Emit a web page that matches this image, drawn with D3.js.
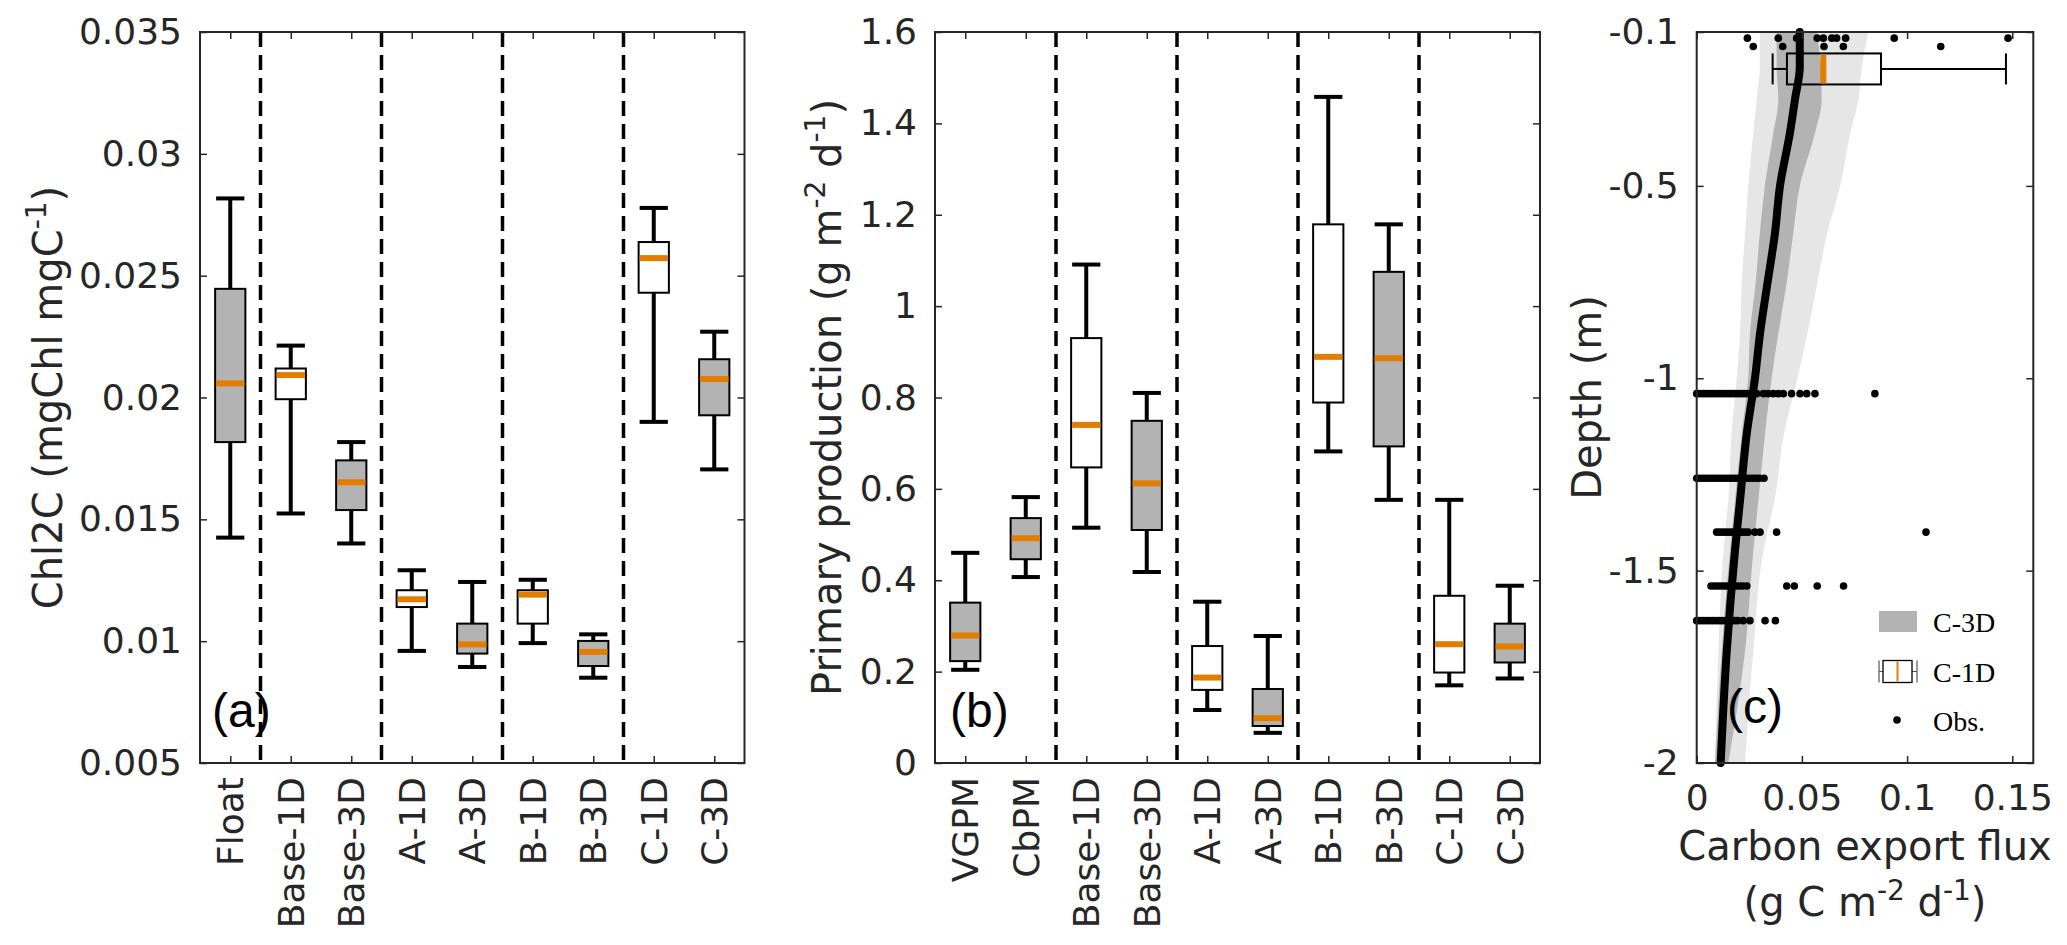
<!DOCTYPE html>
<html>
<head>
<meta charset="utf-8">
<script src="https://cdn.jsdelivr.net/npm/d3@7"></script>
<style>
  body { margin: 0; background: #fff; }
  svg { display: block; font-family: "DejaVu Sans", sans-serif; }
</style>
</head>
<body>
<div id="chart"></div>
<script>
// ---- panel (a): Chl:C ratio ----
const catsA = ["Float", "Base-1D", "Base-3D", "A-1D", "A-3D", "B-1D", "B-3D", "C-1D", "C-3D"];
const shadedA = ["Float", "Base-3D", "A-3D", "B-3D", "C-3D"];
const splitsA = ["Float", "Base-3D", "A-3D", "B-3D"];
const loA  = [0.01425, 0.01524, 0.01401, 0.00960, 0.00894, 0.00992, 0.00850, 0.01900, 0.01705];
const q1A  = [0.01817, 0.01993, 0.01538, 0.01140, 0.00949, 0.01072, 0.00898, 0.02430, 0.01927];
const medA = [0.02058, 0.02092, 0.01652, 0.01172, 0.00987, 0.01191, 0.00956, 0.02572, 0.02076];
const q3A  = [0.02446, 0.02119, 0.01742, 0.01209, 0.01072, 0.01209, 0.01001, 0.02638, 0.02157];
const hiA  = [0.02817, 0.02213, 0.01817, 0.01291, 0.01243, 0.01252, 0.01028, 0.02778, 0.02270];
const yTicksA = [0.005, 0.01, 0.015, 0.02, 0.025, 0.03, 0.035];

// ---- panel (b): primary production ----
const catsB = ["VGPM", "CbPM", "Base-1D", "Base-3D", "A-1D", "A-3D", "B-1D", "B-3D", "C-1D", "C-3D"];
const shadedB = ["VGPM", "CbPM", "Base-3D", "A-3D", "B-3D", "C-3D"];
const splitsB = ["CbPM", "Base-3D", "A-3D", "B-3D"];
const loB  = [0.204, 0.407, 0.515, 0.418, 0.116, 0.066, 0.682, 0.576, 0.170, 0.185];
const q1B  = [0.223, 0.446, 0.647, 0.510, 0.160, 0.081, 0.789, 0.693, 0.198, 0.220];
const medB = [0.279, 0.492, 0.740, 0.612, 0.187, 0.098, 0.889, 0.886, 0.260, 0.255];
const q3B  = [0.351, 0.536, 0.930, 0.749, 0.256, 0.162, 1.179, 1.075, 0.366, 0.305];
const hiB  = [0.460, 0.582, 1.091, 0.810, 0.353, 0.278, 1.458, 1.179, 0.576, 0.388];
const yTicksB = [0, 0.2, 0.4, 0.6, 0.8, 1, 1.2, 1.4, 1.6];

// ---- panel (c): carbon export flux profile ----
const depthC   = [-0.1, -0.19, -0.276, -0.363, -0.5, -0.623, -0.754, -0.884, -1.0, -1.144, -1.318, -1.448, -1.708, -2.0];
const medianC  = [0.0490, 0.0490, 0.0467, 0.0443, 0.0396, 0.0372, 0.0336, 0.0301, 0.0277, 0.0238, 0.0206, 0.0182, 0.0143, 0.0114];
const innerLoC = [0.0380, 0.0380, 0.0388, 0.0364, 0.0324, 0.0300, 0.0280, 0.0253, 0.0245, 0.0214, 0.0182, 0.0158, 0.0119, 0.0087];
const innerHiC = [0.0570, 0.0590, 0.0594, 0.0562, 0.0490, 0.0459, 0.0427, 0.0388, 0.0356, 0.0325, 0.0293, 0.0269, 0.0230, 0.0150];
const outerLoC = [0.0300, 0.0300, 0.0285, 0.0269, 0.0245, 0.0230, 0.0214, 0.0206, 0.0190, 0.0166, 0.0150, 0.0127, 0.0103, 0.0087];
const outerHiC = [0.0816, 0.0785, 0.0769, 0.0730, 0.0682, 0.0620, 0.0573, 0.0526, 0.0479, 0.0415, 0.0370, 0.0317, 0.0269, 0.0230];
const box1D = { depth: -0.196, lo: 0.0361, q1: 0.0429, med: 0.0602, q3: 0.0876, hi: 0.147 };
const obsDepths = [-0.116, -0.1375, -1.04, -1.26, -1.40, -1.54, -1.63];
const obs1 = [0.0241, 0.0388, 0.0475, 0.0488, 0.0573, 0.0602, 0.0642, 0.0665, 0.0708, 0.0939, 0.148];
const obs2 = [0.0269, 0.0409, 0.0605, 0.0697, 0.116];
const obs3 = [0, 0.0015, 0.003, 0.0045, 0.006, 0.0075, 0.009, 0.0105, 0.012, 0.0135, 0.015, 0.0165, 0.018, 0.0195,
              0.021, 0.0225, 0.024, 0.0255, 0.027, 0.0285, 0.0317, 0.034, 0.0364, 0.0388, 0.0412, 0.0451, 0.0491, 0.0523, 0.0562, 0.0847];
const obs4 = [0, 0.0015, 0.003, 0.0045, 0.006, 0.0075, 0.009, 0.0105, 0.012, 0.0135, 0.015, 0.0165, 0.018, 0.0195,
              0.021, 0.0225, 0.024, 0.0255, 0.027, 0.0285, 0.030, 0.032];
const obs5 = [0.0095, 0.011, 0.0125, 0.014, 0.0155, 0.017, 0.0185, 0.020, 0.0215, 0.023, 0.0245, 0.0277, 0.0301, 0.038, 0.109];
const obs6 = [0.0068, 0.0083, 0.0098, 0.0113, 0.0128, 0.0143, 0.0158, 0.0173, 0.0188, 0.0203, 0.0218, 0.0238,
              0.0428, 0.0464, 0.0573, 0.0698];
const obs7 = [0, 0.0015, 0.003, 0.0045, 0.006, 0.0075, 0.009, 0.0105, 0.012, 0.0135, 0.015, 0.0165, 0.018, 0.0195,
              0.0221, 0.0253, 0.0325, 0.0374];
const obsRows = [obs1, obs2, obs3, obs4, obs5, obs6, obs7];
const xTicksC = [0, 0.05, 0.1, 0.15];
const yTicksC = [-0.1, -0.5, -1, -1.5, -2];

// ---- layout ----
const W = 2067, H = 945;
const plotTop = 32, plotBot = 763;
const ink = "#262626";
const orange = "#e27d00";
const grayFill = "#b3b3b3";
const lightBand = "#e6e6e6";
const tickFont = 36, labelFont = 40;

const svg = d3.select("#chart").append("svg")
    .attr("width", W)
    .attr("height", H);

function styleAxis(g) {
    g.attr("font-family", null).attr("font-size", null);
    g.select(".domain").remove();
    g.selectAll(".tick line").attr("stroke", ink).attr("stroke-width", 1.5);
    g.selectAll(".tick text")
        .attr("fill", ink)
        .style("font-family", "'DejaVu Sans', sans-serif")
        .style("font-size", tickFont + "px");
}

function richText(text, parts, size) {
    let raised = false;
    parts.forEach(p => {
        const ts = text.append("tspan").text(p.t);
        if (p.sup) {
            ts.attr("font-size", size * 0.7).attr("dy", -size * 0.4);
            raised = true;
        } else if (raised) {
            ts.attr("dy", size * 0.4);
            raised = false;
        }
    });
}

function boxPanel(cfg) {
    const x = d3.scalePoint().domain(cfg.cats).range([cfg.x0, cfg.x1]).padding(0.5);
    const step = x.step();
    const y = d3.scaleLinear().domain(cfg.yDomain).range([plotBot, plotTop]);
    const g = svg.append("g");

    // dashed group separators
    g.selectAll(".sep")
        .data(cfg.splits)
        .enter()
        .append("line")
        .attr("x1", d => x(d) + step / 2)
        .attr("x2", d => x(d) + step / 2)
        .attr("y1", plotTop)
        .attr("y2", plotBot)
        .attr("stroke", "#000")
        .attr("stroke-width", 3.5)
        .attr("stroke-dasharray", "15,8");

    const boxW = step * 0.5;
    const rows = cfg.cats.map((c, i) => ({
        cat: c, lo: cfg.lo[i], q1: cfg.q1[i], med: cfg.med[i], q3: cfg.q3[i], hi: cfg.hi[i]
    }));

    const b = g.selectAll(".box")
        .data(rows)
        .enter()
        .append("g")
        .attr("class", "box");

    // whiskers
    b.append("line")
        .attr("x1", d => x(d.cat)).attr("x2", d => x(d.cat))
        .attr("y1", d => y(d.hi)).attr("y2", d => y(d.q3))
        .attr("stroke", "#000").attr("stroke-width", 4);
    b.append("line")
        .attr("x1", d => x(d.cat)).attr("x2", d => x(d.cat))
        .attr("y1", d => y(d.q1)).attr("y2", d => y(d.lo))
        .attr("stroke", "#000").attr("stroke-width", 4);
    ["hi", "lo"].forEach(k => {
        b.append("line")
            .attr("x1", d => x(d.cat) - boxW / 2 + 1).attr("x2", d => x(d.cat) + boxW / 2 - 1)
            .attr("y1", d => y(d[k])).attr("y2", d => y(d[k]))
            .attr("stroke", "#000").attr("stroke-width", 4);
    });

    // boxes
    b.append("rect")
        .attr("x", d => x(d.cat) - boxW / 2)
        .attr("width", boxW)
        .attr("y", d => y(d.q3))
        .attr("height", d => y(d.q1) - y(d.q3))
        .attr("fill", d => cfg.shaded.includes(d.cat) ? grayFill : "#fff")
        .attr("stroke", "#000")
        .attr("stroke-width", 2);

    // medians
    b.append("line")
        .attr("x1", d => x(d.cat) - boxW / 2 + 1).attr("x2", d => x(d.cat) + boxW / 2 - 1)
        .attr("y1", d => y(d.med)).attr("y2", d => y(d.med))
        .attr("stroke", orange).attr("stroke-width", 6);

    // frame and ticks
    g.append("rect")
        .attr("x", cfg.x0).attr("y", plotTop)
        .attr("width", cfg.x1 - cfg.x0).attr("height", plotBot - plotTop)
        .attr("fill", "none").attr("stroke", ink).attr("stroke-width", 2);

    g.append("g")
        .attr("transform", `translate(${cfg.x0},0)`)
        .call(d3.axisLeft(y).tickValues(cfg.yTicks).tickFormat(d => String(d))
            .tickSizeInner(-7).tickSizeOuter(0).tickPadding(18))
        .call(styleAxis);
    g.append("g")
        .attr("transform", `translate(${cfg.x1},0)`)
        .call(d3.axisRight(y).tickValues(cfg.yTicks).tickFormat("")
            .tickSizeInner(-7).tickSizeOuter(0))
        .call(styleAxis);
    g.append("g")
        .attr("transform", `translate(0,${plotTop})`)
        .call(d3.axisTop(x).tickFormat("").tickSizeInner(-7).tickSizeOuter(0))
        .call(styleAxis);
    const xa = g.append("g")
        .attr("transform", `translate(0,${plotBot})`)
        .call(d3.axisBottom(x).tickSizeInner(-7).tickSizeOuter(0))
        .call(styleAxis);
    xa.selectAll(".tick text")
        .attr("transform", "rotate(-90)")
        .attr("text-anchor", "end")
        .attr("x", -14)
        .attr("y", 0)
        .attr("dy", "0.35em");

    // y label
    const yl = svg.append("text")
        .attr("transform", `translate(${cfg.yLabelX},${(plotTop + plotBot) / 2}) rotate(-90)`)
        .attr("text-anchor", "middle")
        .attr("fill", ink)
        .style("font-size", labelFont + "px");
    richText(yl, cfg.yLabel, labelFont);

    // panel letter
    svg.append("text")
        .attr("x", cfg.letterX).attr("y", 727)
        .attr("fill", "#000")
        .style("font-family", "'Liberation Sans', Arial, sans-serif")
        .style("font-size", "48px")
        .text(cfg.letter);
}

boxPanel({
    x0: 200, x1: 744.5, cats: catsA, shaded: shadedA, splits: splitsA,
    lo: loA, q1: q1A, med: medA, q3: q3A, hi: hiA,
    yDomain: [0.005, 0.035], yTicks: yTicksA,
    yLabel: [{ t: "Chl2C (mgChl mgC" }, { t: "-1", sup: true }, { t: ")" }], yLabelX: 62,
    letter: "(a)", letterX: 212
});

boxPanel({
    x0: 935, x1: 1540, cats: catsB, shaded: shadedB, splits: splitsB,
    lo: loB, q1: q1B, med: medB, q3: q3B, hi: hiB,
    yDomain: [0, 1.6], yTicks: yTicksB,
    yLabel: [{ t: "Primary production (g m" }, { t: "-2", sup: true }, { t: " d" }, { t: "-1", sup: true }, { t: ")" }],
    yLabelX: 841,
    letter: "(b)", letterX: 950
});

// ---- panel (c) ----
const cx0 = 1696.7, cx1 = 2033.3;
const xC = d3.scaleLinear().domain([0, 0.16]).range([cx0, cx1]);
const yC = d3.scaleLinear().domain([-2, -0.1]).range([plotBot, plotTop]);
const gc = svg.append("g");
const prof = depthC.map((d, i) => ({
    depth: d, med: medianC[i], ilo: innerLoC[i], ihi: innerHiC[i], olo: outerLoC[i], ohi: outerHiC[i]
}));

gc.append("path")
    .datum(prof)
    .attr("d", d3.area().y(d => yC(d.depth)).x0(d => xC(d.olo)).x1(d => xC(d.ohi)).curve(d3.curveMonotoneY))
    .attr("fill", lightBand);
gc.append("path")
    .datum(prof)
    .attr("d", d3.area().y(d => yC(d.depth)).x0(d => xC(d.ilo)).x1(d => xC(d.ihi)).curve(d3.curveMonotoneY))
    .attr("fill", grayFill);
gc.append("path")
    .datum(prof)
    .attr("d", d3.line().y(d => yC(d.depth)).x(d => xC(d.med)).curve(d3.curveMonotoneY))
    .attr("fill", "none")
    .attr("stroke", "#000")
    .attr("stroke-width", 8)
    .attr("stroke-linecap", "round");

// C-1D horizontal box
const by = yC(box1D.depth), bh = 31;
gc.append("line")
    .attr("x1", xC(box1D.lo)).attr("x2", xC(box1D.q1)).attr("y1", by).attr("y2", by)
    .attr("stroke", "#000").attr("stroke-width", 2);
gc.append("line")
    .attr("x1", xC(box1D.q3)).attr("x2", xC(box1D.hi)).attr("y1", by).attr("y2", by)
    .attr("stroke", "#000").attr("stroke-width", 2);
[box1D.lo, box1D.hi].forEach(v => {
    gc.append("line")
        .attr("x1", xC(v)).attr("x2", xC(v)).attr("y1", by - bh / 2).attr("y2", by + bh / 2)
        .attr("stroke", "#000").attr("stroke-width", 2);
});
gc.append("rect")
    .attr("x", xC(box1D.q1)).attr("width", xC(box1D.q3) - xC(box1D.q1))
    .attr("y", by - bh / 2).attr("height", bh)
    .attr("fill", "none").attr("stroke", "#000").attr("stroke-width", 2);
gc.append("line")
    .attr("x1", xC(box1D.med)).attr("x2", xC(box1D.med)).attr("y1", by - bh / 2 + 1).attr("y2", by + bh / 2 - 1)
    .attr("stroke", orange).attr("stroke-width", 6);

// observations
const obsPts = [];
obsRows.forEach((row, i) => row.forEach(v => obsPts.push({ depth: obsDepths[i], flux: v })));
gc.selectAll(".obs")
    .data(obsPts)
    .enter()
    .append("circle")
    .attr("cx", d => xC(d.flux))
    .attr("cy", d => yC(d.depth))
    .attr("r", 3.8)
    .attr("fill", "#000");

gc.append("rect")
    .attr("x", cx0).attr("y", plotTop)
    .attr("width", cx1 - cx0).attr("height", plotBot - plotTop)
    .attr("fill", "none").attr("stroke", ink).attr("stroke-width", 2);

gc.append("g")
    .attr("transform", `translate(${cx0},0)`)
    .call(d3.axisLeft(yC).tickValues(yTicksC).tickFormat(d => String(d))
        .tickSizeInner(-7).tickSizeOuter(0).tickPadding(18))
    .call(styleAxis);
gc.append("g")
    .attr("transform", `translate(${cx1},0)`)
    .call(d3.axisRight(yC).tickValues(yTicksC).tickFormat("").tickSizeInner(-7).tickSizeOuter(0))
    .call(styleAxis);
gc.append("g")
    .attr("transform", `translate(0,${plotBot})`)
    .call(d3.axisBottom(xC).tickValues(xTicksC).tickFormat(d => String(d))
        .tickSizeInner(-7).tickSizeOuter(0).tickPadding(21))
    .call(styleAxis);
gc.append("g")
    .attr("transform", `translate(0,${plotTop})`)
    .call(d3.axisTop(xC).tickValues(xTicksC).tickFormat("").tickSizeInner(-7).tickSizeOuter(0))
    .call(styleAxis);

// labels
svg.append("text")
    .attr("transform", `translate(1601,${(plotTop + plotBot) / 2}) rotate(-90)`)
    .attr("text-anchor", "middle")
    .attr("fill", ink)
    .style("font-size", labelFont + "px")
    .text("Depth (m)");
svg.append("text")
    .attr("x", (cx0 + cx1) / 2).attr("y", 860)
    .attr("text-anchor", "middle")
    .attr("fill", ink)
    .style("font-size", labelFont + "px")
    .text("Carbon export flux");
const xl2 = svg.append("text")
    .attr("x", (cx0 + cx1) / 2).attr("y", 916)
    .attr("text-anchor", "middle")
    .attr("fill", ink)
    .style("font-size", labelFont + "px");
richText(xl2, [{ t: "(g C m" }, { t: "-2", sup: true }, { t: " d" }, { t: "-1", sup: true }, { t: ")" }], labelFont);

svg.append("text")
    .attr("x", 1727).attr("y", 723)
    .attr("fill", "#000")
    .style("font-family", "'Liberation Sans', Arial, sans-serif")
    .style("font-size", "48px")
    .text("(c)");

// legend
const lg = svg.append("g").style("font-family", "'Liberation Serif', 'Times New Roman', serif").style("font-size", "28px");
lg.append("rect").attr("x", 1879).attr("y", 611).attr("width", 38).attr("height", 21).attr("fill", grayFill);
lg.append("text").attr("x", 1933).attr("y", 632).attr("fill", "#000").text("C-3D");
const iy = 671.5;
lg.append("line").attr("x1", 1879).attr("x2", 1917).attr("y1", iy).attr("y2", iy).attr("stroke", "#555").attr("stroke-width", 1.2);
lg.append("line").attr("x1", 1879).attr("x2", 1879).attr("y1", iy - 11).attr("y2", iy + 11).attr("stroke", "#555").attr("stroke-width", 1.2);
lg.append("line").attr("x1", 1917).attr("x2", 1917).attr("y1", iy - 11).attr("y2", iy + 11).attr("stroke", "#555").attr("stroke-width", 1.2);
lg.append("rect").attr("x", 1883).attr("y", iy - 11).attr("width", 29).attr("height", 22)
    .attr("fill", "#fff").attr("stroke", "#000").attr("stroke-width", 1.3);
lg.append("line").attr("x1", 1897.5).attr("x2", 1897.5).attr("y1", iy - 10).attr("y2", iy + 10).attr("stroke", orange).attr("stroke-width", 2);
lg.append("text").attr("x", 1933).attr("y", 682).attr("fill", "#000").text("C-1D");
lg.append("circle").attr("cx", 1897).attr("cy", 720).attr("r", 3.8).attr("fill", "#000");
lg.append("text").attr("x", 1933).attr("y", 731).attr("fill", "#000").text("Obs.");
</script>
</body>
</html>
